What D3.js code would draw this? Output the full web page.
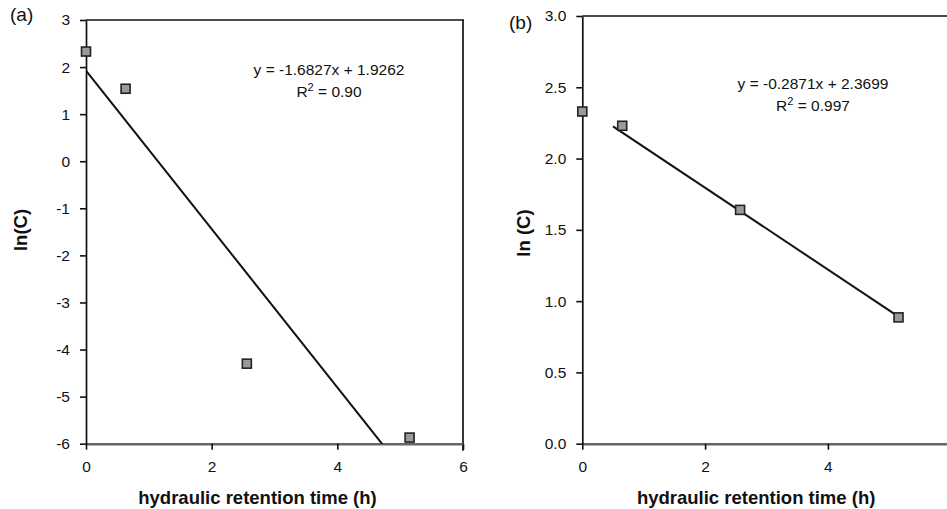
<!DOCTYPE html>
<html>
<head>
<meta charset="utf-8">
<script src="https://cdn.jsdelivr.net/npm/d3@7"></script>
<style>
  body { margin: 0; background: #fff; }
  svg { display: block; font-family: "Liberation Sans", Arial, sans-serif; }
</style>
</head>
<body>
<svg width="947" height="509"></svg>
<script>
  // panel (a)
  var timeA = [0, 0.63, 2.56, 5.15],
      lnA = [2.33, 1.54, -4.30, -5.87],
      fitA = {slope: -1.6827, intercept: 1.9262, x0: 0, x1: 5.15, r2: "0.90"};

  // panel (b)
  var timeB = [0, 0.65, 2.57, 5.15],
      lnB = [2.33, 2.23, 1.64, 0.886],
      fitB = {slope: -0.2871, intercept: 2.3699, x0: 0.5, x1: 5.15, r2: "0.997"};

  var xTicks = [0, 2, 4, 6],
      yTicksA = [-6, -5, -4, -3, -2, -1, 0, 1, 2, 3],
      yTicksB = [0, 0.5, 1.0, 1.5, 2.0, 2.5, 3.0];

  var svg = d3.select("svg");

  // plain hyphen instead of d3's unicode minus
  function hyph(f) { return function(d) { return f(d).replace("\u2212", "-"); }; }

  function panel(opt) {
    var x = d3.scaleLinear().domain([0, 6]).range([opt.left, opt.right]),
        y = d3.scaleLinear().domain(opt.yDomain).range([opt.bottom, opt.top]);

    var g = svg.append("g");

    g.append("clipPath").attr("id", "clip-" + opt.id)
      .append("rect")
      .attr("x", opt.left).attr("y", opt.top)
      .attr("width", opt.right - opt.left).attr("height", opt.bottom - opt.top);

    // frame top/right
    g.append("line")
      .attr("x1", opt.left).attr("x2", opt.right + 1)
      .attr("y1", opt.top).attr("y2", opt.top)
      .attr("stroke", "#111").attr("stroke-width", 1.7);
    g.append("line")
      .attr("x1", opt.right).attr("x2", opt.right)
      .attr("y1", opt.top).attr("y2", opt.bottom + 7)
      .attr("stroke", "#111").attr("stroke-width", 1.7);

    var xAxis = g.append("g")
      .attr("transform", "translate(0," + opt.bottom + ")")
      .call(d3.axisBottom(x).tickValues(xTicks).tickSize(6).tickPadding(11).tickSizeOuter(0)
        .tickFormat(d3.format("d")));
    xAxis.select(".domain").attr("stroke", "#666").attr("stroke-width", 2.4);
    xAxis.selectAll(".tick line").attr("stroke", "#111").attr("stroke-width", 1.6);
    xAxis.selectAll("text").attr("font-size", 15.5).attr("fill", "#111").attr("font-family", null);

    var yAxis = g.append("g")
      .attr("transform", "translate(" + opt.left + ",0)")
      .call(d3.axisLeft(y).tickValues(opt.yTicks).tickSize(6).tickPadding(10).tickSizeOuter(0)
        .tickFormat(hyph(opt.yFormat)));
    yAxis.select(".domain").attr("stroke", "#111").attr("stroke-width", 1.7);
    yAxis.selectAll(".tick line").attr("stroke", "#111").attr("stroke-width", 1.6);
    yAxis.selectAll("text").attr("font-size", 15.5).attr("fill", "#111").attr("font-family", null);

    // trendline
    var fit = opt.fit;
    var fitPts = [fit.x0, fit.x1].map(function(t) { return [t, fit.slope * t + fit.intercept]; });
    g.append("path")
      .datum(fitPts)
      .attr("clip-path", "url(#clip-" + opt.id + ")")
      .attr("fill", "none")
      .attr("stroke", "#111")
      .attr("stroke-width", 2)
      .attr("d", d3.line().x(function(d) { return x(d[0]); }).y(function(d) { return y(d[1]); }));

    // markers
    var pts = opt.xs.map(function(t, i) { return {t: t, v: opt.ys[i]}; });
    g.selectAll(".pt").data(pts).enter().append("rect")
      .attr("class", "pt")
      .attr("x", function(d) { return x(d.t) - 4.5; })
      .attr("y", function(d) { return y(d.v) - 4.5; })
      .attr("width", 9).attr("height", 9)
      .attr("fill", "#9a9a9a")
      .attr("stroke", "#222")
      .attr("stroke-width", 1.6);

    // equation
    var eq = g.append("text")
      .attr("x", opt.eqX).attr("y", opt.eqY)
      .attr("text-anchor", "middle")
      .attr("font-size", 15.5).attr("fill", "#111");
    eq.append("tspan").attr("x", opt.eqX)
      .text("y = " + fit.slope.toFixed(4) + "x + " + fit.intercept.toFixed(4));
    var r = g.append("text")
      .attr("x", opt.eqX).attr("y", opt.eqY + 22)
      .attr("text-anchor", "middle")
      .attr("font-size", 15.5).attr("fill", "#111");
    r.append("tspan").text("R");
    r.append("tspan").attr("dy", -6).attr("font-size", 11).text("2");
    r.append("tspan").attr("dy", 6).text(" = " + fit.r2);

    // labels
    g.append("text")
      .attr("x", opt.tagX).attr("y", opt.tagY)
      .attr("font-size", 19).attr("fill", "#111")
      .text(opt.tag);

    g.append("text")
      .attr("transform", "translate(" + opt.yTitleX + "," + opt.yTitleY + ") rotate(-90)")
      .attr("text-anchor", "middle")
      .attr("font-size", 18.5).attr("font-weight", "bold").attr("fill", "#111")
      .text(opt.yTitle);

    g.append("text")
      .attr("x", (opt.left + Math.min(opt.right, 930)) / 2 + opt.xTitleShift)
      .attr("y", 504)
      .attr("text-anchor", "middle")
      .attr("font-size", 18.5).attr("font-weight", "bold").attr("fill", "#111")
      .text("hydraulic retention time (h)");
  }

  panel({
    id: "a", left: 86, right: 463, top: 20, bottom: 443.7,
    yDomain: [-6, 3], yTicks: yTicksA, yFormat: d3.format("d"),
    xs: timeA, ys: lnA, fit: fitA,
    eqX: 329, eqY: 75, tag: "(a)", tagX: 10, tagY: 21,
    yTitle: "ln(C)", yTitleX: 27, yTitleY: 230, xTitleShift: -17
  });

  panel({
    id: "b", left: 582.3, right: 950.7, top: 16, bottom: 443.7,
    yDomain: [0, 3], yTicks: yTicksB, yFormat: d3.format(".1f"),
    xs: timeB, ys: lnB, fit: fitB,
    eqX: 813, eqY: 89, tag: "(b)", tagX: 509, tagY: 29,
    yTitle: "ln (C)", yTitleX: 530, yTitleY: 233, xTitleShift: 0
  });
</script>
</body>
</html>
